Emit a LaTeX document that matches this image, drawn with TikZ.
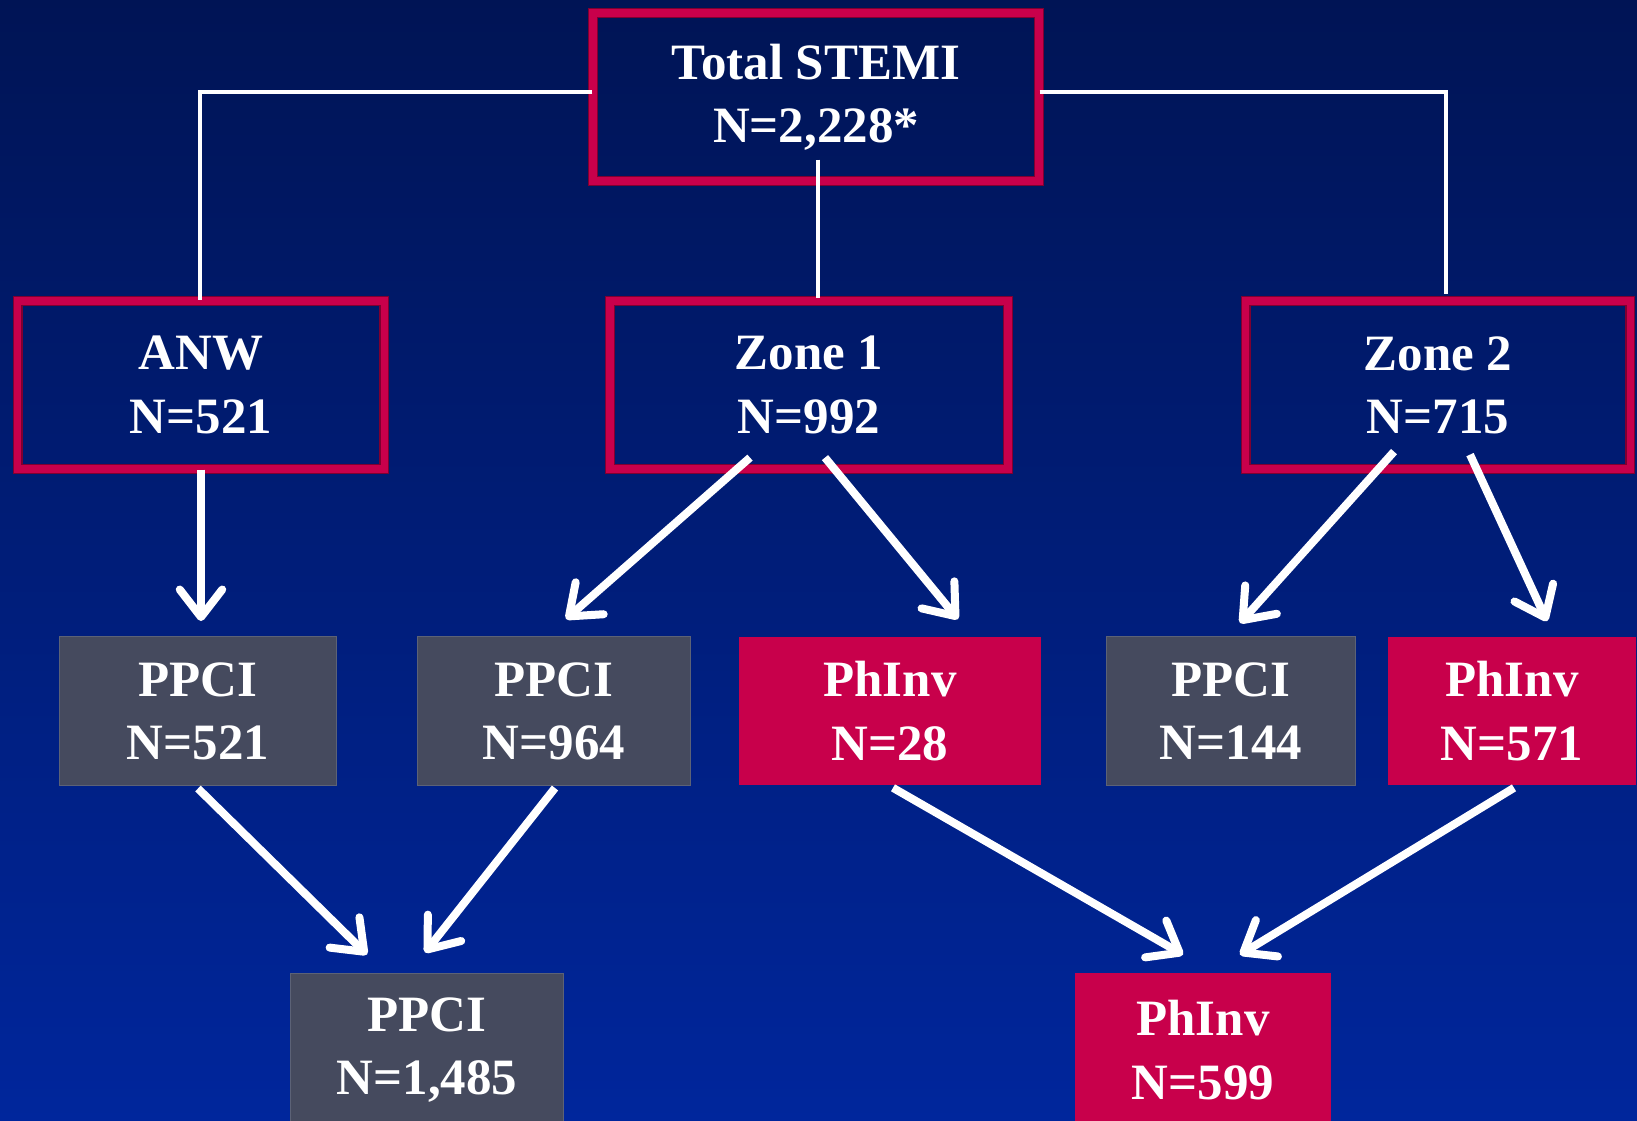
\documentclass[tikz,border=0pt]{standalone}
\usepackage{fontspec}
\setmainfont{Liberation Serif}
\usetikzlibrary{arrows.meta, positioning}
\usepackage{xcolor}

\definecolor{bgTop}{HTML}{001455}
\definecolor{bgBottom}{HTML}{00269C}
\definecolor{crimson}{HTML}{C8004B}
\definecolor{crimsonDark}{HTML}{7E0030}
\definecolor{slateBox}{HTML}{454A5E}
\definecolor{slateEdge}{HTML}{5C6276}

\tikzset{
    groupbox/.style={draw=crimsonDark, double=crimson, double distance=0.15cm, line width=0.025cm,
        text=white, align=center, inner sep=0pt, minimum height=3.36cm,
        font=\bfseries\fontsize{29}{36}\selectfont},
    ppcibox/.style={draw=slateEdge, line width=0.02cm, fill=slateBox, text=white, align=center,
        inner sep=0pt, minimum height=2.98cm, font=\bfseries\fontsize{29}{36}\selectfont},
    phinvbox/.style={fill=crimson, text=white, align=center,
        inner sep=0pt, minimum height=2.98cm, font=\bfseries\fontsize{29}{36}\selectfont},
    link/.style={white, line width=0.08cm},
    flow/.style={white, line width=0.16cm, -{Straight Barb[length=0.55cm, width=0.85cm, round]},
        preaction={draw=black, opacity=0.3, transform canvas={xshift=0.04cm, yshift=-0.05cm}}}
}

\begin{document}
\begin{tikzpicture}[x=0.02cm, y=-0.02cm]
    % Background
    \useasboundingbox (0,0) rectangle (1637,1120);
    \clip (0,0) rectangle (1637,1120);
    \shade[top color=bgTop, bottom color=bgBottom] (0,0) rectangle (1637,1120);

    % Box for total
    \node[groupbox, minimum width=8.92cm] (total) at (816,97) {Total STEMI\\N=2,228*};

    % Boxes for the three areas
    \node[groupbox, minimum width=7.34cm] (anw) at (201,385) {ANW\\N=521};
    \node[groupbox, minimum width=7.96cm] (zone1) at (809,385) {Zone 1\\N=992};
    \node[groupbox, minimum width=7.70cm] (zone2) at (1438,385) {Zone 2\\N=715};

    % Boxes for the split per area
    \node[ppcibox, minimum width=5.56cm] (ppciA) at (198,711) {PPCI\\N=521};
    \node[ppcibox, minimum width=5.46cm] (ppciB) at (554,711) {PPCI\\N=964};
    \node[phinvbox, minimum width=6.06cm] (phinvA) at (890,711) {PhInv\\N=28};
    \node[ppcibox, minimum width=4.98cm] (ppciC) at (1231,711) {PPCI\\N=144};
    \node[phinvbox, minimum width=4.98cm] (phinvB) at (1512,711) {PhInv\\N=571};

    % Boxes for the totals
    \node[ppcibox, minimum width=5.48cm, minimum height=3.08cm] (ppciSum) at (427,1050) {PPCI\\N=1,485};
    \node[phinvbox, minimum width=5.12cm, minimum height=3.08cm] (phinvSum) at (1203,1050) {PhInv\\N=599};

    % Lines from total
    \draw[link] ([yshift=0.1cm]total.west) -| ([xshift=-0.02cm]anw.north);
    \draw[link] ([yshift=0.1cm]total.east) -| ([shift={(8,-6)}]zone2.north);
    \draw[link] ([shift={(2,-22)}]total.south) -- ([shift={(9,-2)}]zone1.north);

    % Arrows
    \draw[flow] (anw.south) -- ([yshift=0.3cm]anw.south |- ppciA.north);
    \draw[flow] ([shift={(-59,-12)}]zone1.south) -- ([shift={(12,-17)}]ppciB.north);
    \draw[flow] ([shift={(16,-12)}]zone1.south) -- ([shift={(68,-17)}]phinvA.north);
    \draw[flow] ([shift={(-44,-18)}]zone2.south) -- ([shift={(9,-13)}]ppciC.north);
    \draw[flow] ([shift={(32,-15)}]zone2.south) -- ([shift={(35,-15)}]phinvB.north);
    \draw[flow] ([yshift=-0.05cm]ppciA.south) -- ([shift={(-60,-18)}]ppciSum.north);
    \draw[flow] ([shift={(1,2)}]ppciB.south) -- ([shift={(-2,-20)}]ppciSum.north);
    \draw[flow] ([shift={(3,2)}]phinvA.south) -- ([shift={(-20,-18)}]phinvSum.north);
    \draw[flow] ([shift={(2,2)}]phinvB.south) -- ([shift={(37,-18)}]phinvSum.north);
\end{tikzpicture}
\end{document}
